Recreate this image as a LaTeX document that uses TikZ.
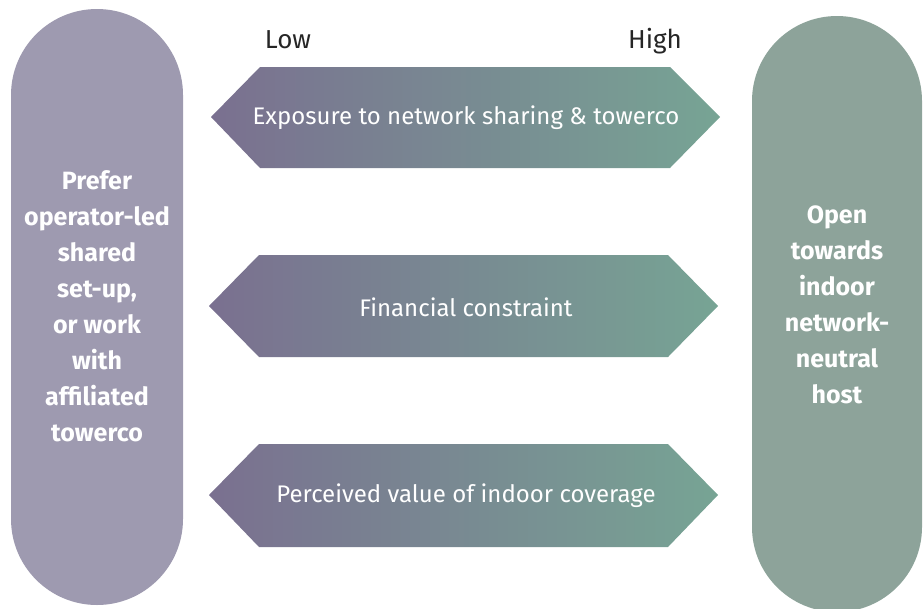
\documentclass[tikz,border=0pt]{standalone}
\usepackage{fontspec}
\setmainfont{Fira Sans}
\definecolor{pillLow}{HTML}{9E9AB0}
\definecolor{pillHigh}{HTML}{8DA39A}
\definecolor{gradLow}{HTML}{7A7090}
\definecolor{gradHigh}{HTML}{77A494}
\tikzset{
  pilltext/.style={text=white, align=center, font=\fontsize{25}{36}\selectfont\bfseries},
  bartext/.style={text=white, font=\fontsize{24}{26}\selectfont},
  scaletext/.style={text=black!85, font=\fontsize{26}{28}\selectfont, anchor=base},
  bar/.style={left color=gradLow, right color=gradHigh}
}
\begin{document}
\begin{tikzpicture}[x=1pt, y=-1pt]
			%%%%% START %%%%%
			\useasboundingbox (0, 0) rectangle (923, 608);
			
			% side pills
			\fill[pillLow, rounded corners=86pt] (11, 9) rectangle (183, 605);
			\fill[pillHigh, rounded corners=85pt] (752, 16) rectangle (922, 612);
			
			\node[pilltext] (prefer) at (97, 306) {Prefer\\operator-led\\shared\\set-up,\\or work\\with\\affiliated\\towerco};
			\node[pilltext] (open) at (837, 305) {Open\\towards\\indoor\\network-\\neutral\\host};
			
			% scale
			\node[scaletext] (low) at (288, 48) {Low};
			\node[scaletext] (high) at (655, 48) {High};
			
			% bars
			\shade[bar] (211, 117) -- (260, 67) -- (670, 67) -- (720, 117) -- (670, 168) -- (260, 168) -- cycle;
			\node[bartext] (exposure) at (466, 118) {Exposure to network sharing \& towerco};
			
			\shade[bar] (209, 306) -- (259, 255) -- (668, 255) -- (718, 306) -- (668, 357) -- (259, 357) -- cycle;
			\node[bartext] (financial) at (466, 307) {Financial constraint};
			
			\shade[bar] (209, 495) -- (259, 444) -- (668, 444) -- (718, 495) -- (668, 547) -- (259, 547) -- cycle;
			\node[bartext] (coverage) at (466, 496) {Perceived value of indoor coverage};
			
			%%%%% END %%%%%
		\end{tikzpicture}
\end{document}
